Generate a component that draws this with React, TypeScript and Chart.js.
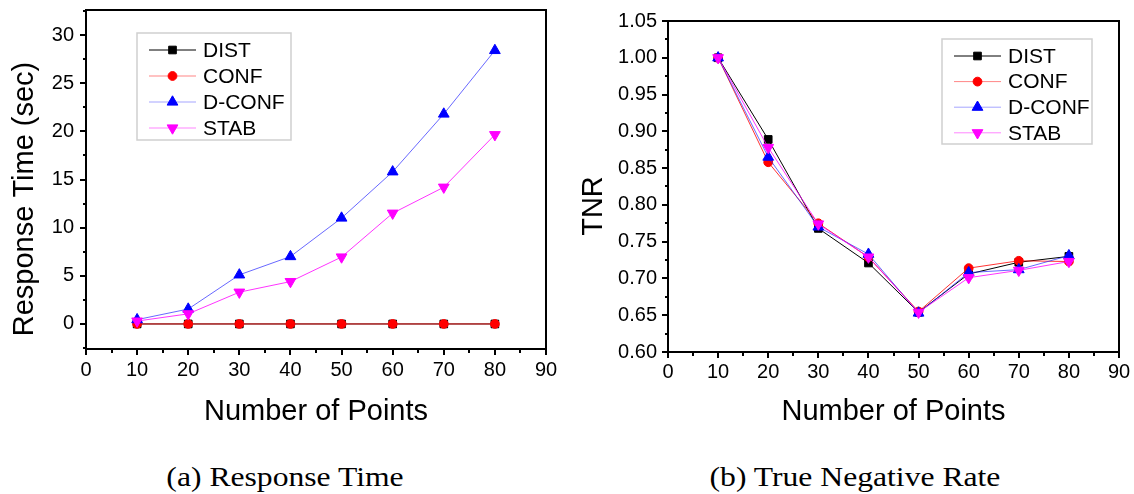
import React, { useEffect, useRef } from 'react';
import { Chart, registerables } from 'chart.js';
import { drawPoint } from 'chart.js/helpers';

Chart.register(...registerables);

// ---------- data ----------
const xPoints = [10, 20, 30, 40, 50, 60, 70, 80];
const seriesNames = ['DIST', 'CONF', 'D-CONF', 'STAB'];

// (a) Response Time (sec)
const rtDist = [0, 0, 0, 0, 0, 0, 0, 0];
const rtConf = [0, 0, 0, 0, 0, 0, 0, 0];
const rtDconf = [0.45, 1.55, 5.1, 7.0, 11.0, 15.8, 21.8, 28.4];
const rtStab = [0.3, 1.05, 3.3, 4.4, 6.95, 11.5, 14.2, 19.65];

// (b) True Negative Rate
const tnrDist = [1.0, 0.889, 0.768, 0.721, 0.654, 0.706, 0.722, 0.73];
const tnrConf = [1.0, 0.858, 0.775, 0.729, 0.655, 0.714, 0.724, 0.723];
const tnrDconf = [1.0, 0.865, 0.77, 0.733, 0.653, 0.708, 0.712, 0.731];
const tnrStab = [1.0, 0.878, 0.774, 0.729, 0.654, 0.701, 0.711, 0.723];

// ticks
const xTickValues = [0, 10, 20, 30, 40, 50, 60, 70, 80, 90];
const xTickLabels = ['0', '10', '20', '30', '40', '50', '60', '70', '80', '90'];
const rtTickValues = [0, 5, 10, 15, 20, 25, 30];
const rtTickLabels = ['0', '5', '10', '15', '20', '25', '30'];
const tnrTickValues = [0.6, 0.65, 0.7, 0.75, 0.8, 0.85, 0.9, 0.95, 1.0, 1.05];
const tnrTickLabels = ['0.60', '0.65', '0.70', '0.75', '0.80', '0.85', '0.90', '0.95', '1.00', '1.05'];

// ---------- styles ----------
const FONT = '"Liberation Sans", Arial, sans-serif';
const seriesStyles = [
  { color: '#000000', line: '#000000', pointStyle: 'rect', rotation: 0, radius: 5.4, order: 4 },
  { color: '#ff0000', line: 'rgba(255,0,0,0.8)', pointStyle: 'circle', rotation: 0, radius: 4.4, order: 3 },
  { color: '#0000ff', line: 'rgba(40,40,255,0.7)', pointStyle: 'triangle', rotation: 0, radius: 6.2, order: 2 },
  { color: '#ff00ff', line: 'rgba(255,0,255,0.8)', pointStyle: 'triangle', rotation: 180, radius: 6.2, order: 1 },
];

function buildDatasets(values: number[][]) {
  return values.map((vals, i) => {
    const s = seriesStyles[i];
    return {
      label: seriesNames[i],
      data: xPoints.map((x, j) => ({ x, y: vals[j] })),
      borderColor: s.line,
      backgroundColor: s.color,
      borderWidth: 1,
      pointStyle: s.pointStyle,
      pointRotation: s.rotation,
      pointRadius: s.radius,
      pointBackgroundColor: s.color,
      pointBorderColor: s.color,
      pointBorderWidth: 1,
      tension: 0,
      order: s.order,
    };
  });
}

function minorsOf(majors: number[], min: number, max: number) {
  const step = majors[1] - majors[0];
  const out: number[] = [];
  for (let i = -1; i < majors.length; i++) {
    const base = i < 0 ? majors[0] - step : majors[i];
    const v = base + step / 2;
    if (v >= min - 1e-9 && v <= max + 1e-9) out.push(v);
  }
  return out;
}

const decorPlugin = {
  id: 'decor',
  afterDraw(chart: any, _args: any, o: any) {
    const ctx = chart.ctx as CanvasRenderingContext2D;
    const { left, right, top, bottom } = chart.chartArea;
    const xs = chart.scales.x;
    const ys = chart.scales.y;
    ctx.save();
    ctx.strokeStyle = '#000';
    ctx.lineWidth = 2;
    ctx.lineCap = 'butt';
    // ticks
    ctx.beginPath();
    for (const v of xTickValues) {
      const px = Math.round(xs.getPixelForValue(v));
      ctx.moveTo(px, bottom);
      ctx.lineTo(px, bottom + 6);
    }
    for (const v of minorsOf(xTickValues, xs.min, xs.max)) {
      const px = Math.round(xs.getPixelForValue(v));
      ctx.moveTo(px, bottom);
      ctx.lineTo(px, bottom + 4);
    }
    for (const v of o.yMajor) {
      const py = Math.round(ys.getPixelForValue(v));
      ctx.moveTo(left, py);
      ctx.lineTo(left - 6, py);
    }
    for (const v of minorsOf(o.yMajor, ys.min, ys.max)) {
      const py = Math.round(ys.getPixelForValue(v));
      ctx.moveTo(left, py);
      ctx.lineTo(left - 3, py);
    }
    ctx.stroke();
    // frame
    ctx.strokeRect(left, top, right - left, bottom - top);

    // axis titles
    ctx.fillStyle = '#000';
    ctx.font = `29px ${FONT}`;
    ctx.textAlign = 'center';
    ctx.textBaseline = 'alphabetic';
    ctx.fillText(o.xTitle, (left + right) / 2, o.xTitleBaseline);
    ctx.save();
    ctx.translate(o.yTitleBaselineX, o.yTitleCenterY);
    ctx.rotate(-Math.PI / 2);
    ctx.fillText(o.yTitle, 0, 0);
    ctx.restore();

    // legend
    const L = o.legend;
    ctx.fillStyle = '#fff';
    ctx.fillRect(L.x, L.y, L.w, L.h);
    ctx.strokeStyle = '#cfcfcf';
    ctx.lineWidth = 1.5;
    ctx.strokeRect(L.x, L.y, L.w, L.h);
    chart.data.datasets.forEach((ds: any, i: number) => {
      const y = L.rowY + i * L.rowStep;
      ctx.strokeStyle = ds.borderColor;
      ctx.globalAlpha = i === 0 ? 1 : 0.6;
      ctx.lineWidth = 1;
      ctx.beginPath();
      ctx.moveTo(L.lineX1, y);
      ctx.lineTo(L.lineX2, y);
      ctx.stroke();
      ctx.globalAlpha = 1;
      ctx.fillStyle = ds.pointBackgroundColor;
      ctx.strokeStyle = ds.pointBorderColor;
      ctx.lineWidth = 1;
      drawPoint(ctx, { pointStyle: ds.pointStyle, rotation: ds.pointRotation, radius: ds.pointRadius, borderWidth: 1 }, (L.lineX1 + L.lineX2) / 2, y);
      ctx.fillStyle = '#000';
      ctx.font = `21px ${FONT}`;
      ctx.textAlign = 'left';
      ctx.textBaseline = 'middle';
      ctx.fillText(ds.label, L.textX, y + 1);
    });
    ctx.restore();
  },
};

function makeConfig(p: any) {
  return {
    type: 'line',
    data: { datasets: buildDatasets(p.values) },
    plugins: [decorPlugin],
    options: {
      responsive: false,
      animation: false,
      devicePixelRatio: 1,
      layout: { padding: { left: 0, top: p.padTop, right: p.padRight, bottom: 0 } },
      plugins: {
        legend: { display: false },
        tooltip: { enabled: false },
        decor: p.decor,
      },
      scales: {
        x: {
          type: 'linear',
          min: 0,
          max: 90,
          grid: { display: false, drawTicks: false },
          border: { display: false },
          afterBuildTicks: (s: any) => { s.ticks = xTickValues.map((v) => ({ value: v })); },
          afterFit: (s: any) => { s.height = p.xAxisHeight; s.paddingLeft = 0; s.paddingRight = 0; },
          ticks: {
            autoSkip: false,
            maxRotation: 0,
            padding: p.xTickPad,
            color: '#000',
            font: { family: FONT, size: 20 },
            callback: (_v: any, i: number) => xTickLabels[i],
          },
        },
        y: {
          type: 'linear',
          min: p.yMin,
          max: p.yMax,
          grid: { display: false, drawTicks: false },
          border: { display: false },
          afterBuildTicks: (s: any) => { s.ticks = p.yTicks.map((v: number) => ({ value: v })); },
          afterFit: (s: any) => { s.width = p.yAxisWidth; s.paddingTop = 0; s.paddingBottom = 0; },
          ticks: {
            autoSkip: false,
            padding: p.yTickPad,
            color: '#000',
            font: { family: FONT, size: 20 },
            callback: (_v: any, i: number) => p.yLabels[i],
          },
        },
      },
    },
  };
}

function ChartCanvas({ params, left, width, height }: any) {
  const ref = useRef<HTMLCanvasElement>(null);
  useEffect(() => {
    const chart = new Chart(ref.current as HTMLCanvasElement, makeConfig(params) as any);
    return () => chart.destroy();
  }, []);
  return (
    <canvas
      ref={ref}
      width={width}
      height={height}
      style={{ position: 'absolute', left, top: 0, width, height }}
    />
  );
}

const leftParams = {
  values: [rtDist, rtConf, rtDconf, rtStab],
  yMin: -2.6,
  yMax: 32.6,
  yTicks: rtTickValues,
  yLabels: rtTickLabels,
  padTop: 10,
  padRight: 20,
  xAxisHeight: 91,
  yAxisWidth: 86,
  xTickPad: 9,
  yTickPad: 12,
  decor: {
    yMajor: rtTickValues,
    xTitle: 'Number of Points',
    xTitleBaseline: 420,
    yTitle: 'Response Time (sec)',
    yTitleBaselineX: 33,
    yTitleCenterY: 199,
    legend: { x: 137, y: 33, w: 154, h: 107, rowY: 50, rowStep: 26, lineX1: 149, lineX2: 196, textX: 203 },
  },
};

const rightParams = {
  values: [tnrDist, tnrConf, tnrDconf, tnrStab],
  yMin: 0.6,
  yMax: 1.05,
  yTicks: tnrTickValues,
  yLabels: tnrTickLabels,
  padTop: 21,
  padRight: 15,
  xAxisHeight: 88,
  yAxisWidth: 102,
  xTickPad: 8,
  yTickPad: 11,
  decor: {
    yMajor: tnrTickValues,
    xTitle: 'Number of Points',
    xTitleBaseline: 420,
    yTitle: 'TNR',
    yTitleBaselineX: 35.5,
    yTitleCenterY: 206,
    legend: { x: 376, y: 39, w: 150, h: 105, rowY: 56, rowStep: 25.6, lineX1: 388, lineX2: 435, textX: 442 },
  },
};

const captionStyle: React.CSSProperties = {
  position: 'absolute',
  top: 463,
  width: 400,
  textAlign: 'center',
  fontFamily: '"Liberation Serif", "Times New Roman", serif',
  fontSize: 28,
  lineHeight: '28px',
  color: '#000',
  whiteSpace: 'nowrap',
  transform: 'scaleX(1.13)',
  transformOrigin: 'center',
};

export default function App() {
  return (
    <div style={{ position: 'absolute', left: 0, top: 0, width: 1134, height: 494, background: '#fff', overflow: 'hidden' }}>
      <ChartCanvas params={leftParams} left={0} width={566} height={440} />
      <ChartCanvas params={rightParams} left={566} width={568} height={440} />
      <div style={{ ...captionStyle, left: 285 - 200 }}>(a) Response Time</div>
      <div style={{ ...captionStyle, left: 855 - 200 }}>(b) True Negative Rate</div>
    </div>
  );
}
